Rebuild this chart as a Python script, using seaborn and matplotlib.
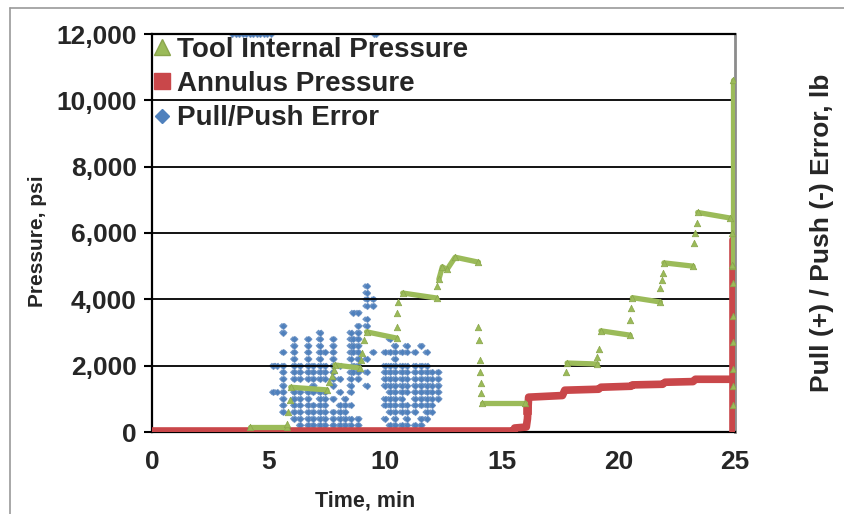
import numpy as np
import pandas as pd
import matplotlib
matplotlib.use("Agg")
import matplotlib.pyplot as plt
import seaborn as sns
from matplotlib.lines import Line2D
from matplotlib.ticker import FuncFormatter

# ---------------- data ----------------
# Tool internal pressure: dense plateau segments (psi), drawn as thick strokes
tool_seg = [1, 1, 2, 2, 3, 3, 4, 4, 5, 5, 6, 6, 6, 6, 6, 7, 7, 8, 8, 9, 9, 10, 10, 11, 11, 12, 12, 13, 13]
tool_seg_t = [4.2, 5.8, 5.95, 7.5, 7.85, 8.9, 9.2, 10.5, 10.75, 12.2,
              12.3, 12.45, 12.65, 13.0, 14.0, 14.15, 16.0, 17.8, 19.1,
              19.25, 20.5, 20.6, 21.8, 21.95, 23.2, 23.4, 24.8, 24.92, 24.92]
tool_seg_p = [150, 150, 1350, 1270, 2020, 1930, 3020, 2830, 4190, 4040,
              4600, 4980, 4900, 5270, 5120, 870, 870, 2080, 2050,
              3050, 2920, 4050, 3920, 5100, 5000, 6620, 6450, 5000, 10600]
# Tool internal pressure: sparse samples during pressure changes
tool_pt_t = [5.8, 5.85, 5.9, 7.6, 7.7, 7.8, 8.95, 9.0, 9.1, 10.5, 10.52, 10.55,
             12.2, 14.0, 14.02, 14.05, 14.08, 14.1, 14.12, 17.75, 19.1, 19.15,
             20.5, 20.55, 21.8, 21.85, 21.9, 23.25, 23.3, 23.35, 24.85, 24.85,
             24.92, 24.92, 24.92, 24.92, 24.92, 24.92]
tool_pt_p = [250, 600, 950, 1500, 1700, 1880, 2170, 2380, 2770, 3170, 3590, 3920,
             4400, 3170, 2770, 2170, 1800, 1470, 1170, 1800, 2260, 2500,
             3380, 3740, 4340, 4580, 4800, 5700, 6000, 6300, 5030, 6000,
             4500, 3500, 2700, 1900, 1400, 800]

# Annulus pressure (psi)
ann_seg = [1] * 18 + [2, 2]
ann_t = [0, 15.5, 15.55, 16.05, 16.1, 16.15, 17.6, 17.7, 19.15, 19.25,
         20.55, 20.6, 21.9, 22.0, 23.2, 23.3, 24.8, 24.92, 24.92, 24.92]
ann_p = [30, 30, 120, 150, 400, 1050, 1100, 1260, 1290, 1350,
         1380, 1420, 1440, 1500, 1520, 1590, 1590, 1590, 0, 5800]
ann_pt_t = [16.1]
ann_pt_p = [660]

# Pull/Push error (lb), sampled in columns of quantised readings (20 lb steps)
err_col_t = [5.2, 5.35, 5.63, 6.1, 6.35, 6.7, 6.92, 7.2, 7.42, 7.78, 8.06, 8.28,
             8.52, 8.63, 8.85, 9.2, 9.49, 9.99, 10.2, 10.42, 10.7, 10.92, 11.28,
             11.55, 11.78, 11.99, 12.28]
err_col_steps = [
    [10, 6], [10, 6],
    [16, 15, 12, 10, 9, 8, 7, 6, 5, 4, 3],
    [14, 13, 12, 11, 10, 9, 8, 6, 5, 4, 3, 2],
    [10, 9, 8, 6, 5, 4, 3, 2, 1, 0],
    [14, 13, 12, 11, 10, 9, 8, 6, 5, 4, 3, 2, 1, 0],
    [10, 9, 8, 7, 6, 4, 3, 2, 1, 0],
    [15, 14, 13, 12, 11, 10, 9, 8, 6, 5, 4, 3, 2, 1, 0],
    [12, 10, 9, 8, 6, 5, 4, 3, 2, 1, 0],
    [14, 13, 12, 11, 10, 9, 8, 7, 5, 3, 2, 1],
    [10, 8, 6, 4, 3, 2, 1, 0],
    [5, 4, 3, 2, 1, 0],
    [15, 14, 13, 12, 11, 9, 8, 7, 6, 4, 2, 1, 0],
    [18, 14, 13, 12, 10, 9],
    [18, 16, 15, 14, 13, 12, 11, 10, 9, 8, 2, 1, 0],
    [22, 21, 20, 19, 17, 16, 11, 9, 7, 0],
    [20, 19, 12],
    [12, 10, 9, 8, 7, 5, 4, 2],
    [14, 12, 10, 9, 8, 7, 6, 5, 4, 3, 1],
    [13, 12, 11, 10, 9, 8, 7, 6, 5, 4, 3, 2, 1],
    [12, 10, 9, 8, 7, 6, 5, 4, 3, 1],
    [13, 12, 10, 9, 8, 7, 6, 4, 3, 2, 1],
    [12, 10, 9, 8, 7, 6, 5, 4, 3, 1],
    [13, 10, 9, 8, 7, 6, 5, 4, 2, 1],
    [12, 10, 9, 8, 7, 6, 5, 4, 3, 2, 0],
    [9, 8, 7, 6, 5, 4, 3, 0],
    [9, 8, 7, 6, 5],
]
err_step_lb = 20
# readings beyond the plotted range (pinned at the top edge)
err_high_t = [3.45, 3.6, 3.75, 3.9, 4.05, 4.2, 4.35, 4.5, 4.65, 4.8, 4.95, 5.1, 9.5, 9.6]
err_high_lb = [1200] * 14

x_ticks = [0, 5, 10, 15, 20, 25]
y_ticks = [0, 2000, 4000, 6000, 8000, 10000, 12000]

GREEN = "#9BBB59"
GREEN_EDGE = "#8AA54C"
RED = "#C9474A"
BLUE = "#4F81BD"

# ---------------- figure ----------------
sns.set_style("white")
plt.rcParams["font.family"] = ["Liberation Sans", "DejaVu Sans"]
plt.rcParams["font.weight"] = "bold"

fig = plt.figure(figsize=(8.44, 5.14), dpi=100)
ax = fig.add_axes([152 / 844, 1 - 432 / 514, (735 - 152) / 844, (432 - 34) / 514])
ax2 = ax.twinx()
ax.set_zorder(ax2.get_zorder() + 1)
ax.patch.set_visible(False)

# blue error points on the secondary axis
err_t = [t for t, steps in zip(err_col_t, err_col_steps) for _ in steps]
err_lb = [k * err_step_lb for steps in err_col_steps for k in steps]
df_err = pd.DataFrame({"t": err_t + err_high_t, "lb": err_lb + err_high_lb})
for dt in (-0.06, 0.06):
    sns.scatterplot(x=np.array(err_t) + dt, y=err_lb, ax=ax2, marker="D", s=9,
                    color=BLUE, edgecolor="none", alpha=0.85, zorder=3)
sns.scatterplot(data=df_err, x="t", y="lb", ax=ax2, marker="D", s=12,
                color=BLUE, edgecolor="#7F9AC4", linewidth=0.3, zorder=3)
ax2.set_ylim(0, 1200)
ax2.set_yticks([])
ax2.set_ylabel("Pull (+) / Push (-) Error, lb", fontsize=19, fontweight="bold",
               labelpad=54)

# gridlines
for yv in y_ticks[1:-1]:
    ax.axhline(yv, color="black", lw=1.3, zorder=1)

# annulus pressure
df_ann = pd.DataFrame({"t": ann_t, "p": ann_p, "seg": ann_seg})
sns.lineplot(data=df_ann, x="t", y="p", units="seg", estimator=None, sort=False,
             ax=ax, color=RED, lw=5.5, zorder=4, legend=False)
sns.scatterplot(x=ann_pt_t, y=ann_pt_p, ax=ax, marker="s", s=30, color=RED,
                edgecolor=RED, zorder=4)

# tool internal pressure
df_tool = pd.DataFrame({"t": tool_seg_t, "p": tool_seg_p, "seg": tool_seg})
sns.lineplot(data=df_tool, x="t", y="p", units="seg", estimator=None, sort=False,
             ax=ax, color=GREEN, lw=3.8, zorder=5, legend=False)
sns.scatterplot(x=tool_seg_t, y=tool_seg_p, ax=ax, marker="^", s=22, color=GREEN,
                edgecolor=GREEN_EDGE, linewidth=0.5, zorder=5)
sns.scatterplot(x=tool_pt_t, y=tool_pt_p, ax=ax, marker="^", s=22, color=GREEN,
                edgecolor=GREEN_EDGE, linewidth=0.5, zorder=5)

ax.set_xlim(0, 25)
ax.set_ylim(0, 12000)
ax.set_xticks(x_ticks)
ax.set_yticks(y_ticks)
ax.yaxis.set_major_formatter(FuncFormatter(lambda v, p: f"{int(v):,}"))
ax.tick_params(axis="both", direction="out", length=6, width=1.5, color="black",
               labelsize=19, pad=5)
ax.tick_params(axis="x", pad=7)
for lab in ax.get_xticklabels() + ax.get_yticklabels():
    lab.set_fontweight("bold")

ax.set_xlabel("Time, min", fontsize=15.5, fontweight="bold")
ax.xaxis.set_label_coords(0.365, -0.148)
ax.set_ylabel("Pressure, psi", fontsize=15, fontweight="bold")
ax.yaxis.set_label_coords(-0.18, 0.48)

for name in ("left", "bottom", "top"):
    ax.spines[name].set_color("black")
    ax.spines[name].set_linewidth(1.6)
ax.spines["right"].set_visible(False)
for name in ("left", "bottom", "top"):
    ax2.spines[name].set_visible(False)
ax2.spines["right"].set_color("#8C8C8C")
ax2.spines["right"].set_linewidth(2)

handles = [
    Line2D([], [], marker="^", ls="", color=GREEN, markeredgecolor=GREEN_EDGE, markersize=12),
    Line2D([], [], marker="s", ls="", color=RED, markeredgecolor=RED, markersize=11),
    Line2D([], [], marker="D", ls="", color=BLUE, markeredgecolor=BLUE, markersize=7),
]
leg = ax.legend(handles, ["Tool Internal Pressure", "Annulus Pressure", "Pull/Push Error"],
                loc="upper left", bbox_to_anchor=(-0.005, 1.0), frameon=False,
                prop={"size": 20, "weight": "bold"}, handlelength=0.7,
                handletextpad=0.2, labelspacing=0.3, borderaxespad=0.0,
                borderpad=0.1)
leg.set_zorder(10)

# outer frame of the source figure
fig.add_artist(Line2D([10 / 844, 1], [1 - 8 / 514, 1 - 8 / 514], color="#9A9A9A", lw=1.2))
fig.add_artist(Line2D([10 / 844, 10 / 844], [0, 1 - 8 / 514], color="#9A9A9A", lw=1.2))

fig.savefig("out.png", dpi=100)
